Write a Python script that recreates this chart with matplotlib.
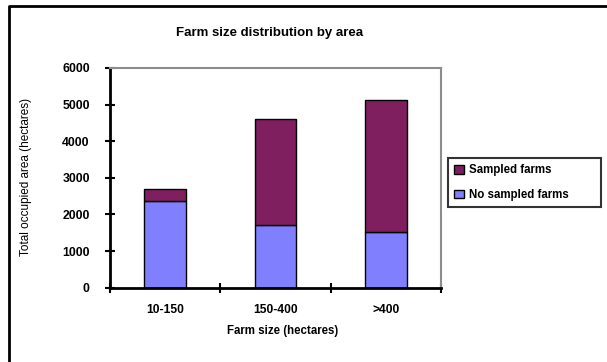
import matplotlib.pyplot as plt
from matplotlib.lines import Line2D

plt.rcParams['font.family'] = ['Liberation Sans', 'DejaVu Sans']

# Farm size classes and occupied area (hectares)
categories = ['10-150', '150-400', '>400']
no_sampled = [2380, 1700, 1530]
sampled = [310, 2900, 3600]
y_ticks = [0, 1000, 2000, 3000, 4000, 5000, 6000]

purple = '#7F1F5F'
blue = '#8080FF'

W, H = 607, 362
fig = plt.figure(figsize=(W / 100, H / 100), dpi=100)

# outer chart frame (only left and top edges show)
fx, fy = 8.5 / W, 1 - 5.5 / H
fig.add_artist(Line2D([fx, fx, 1.0], [0.0, fy, fy], transform=fig.transFigure,
                      color='black', linewidth=2.0))

ax = fig.add_axes([110 / W, (H - 287.7) / H, 331 / W, 219.7 / H])

x = range(len(categories))
b1 = ax.bar(x, no_sampled, width=0.38, color=blue, edgecolor='black',
            linewidth=1.0, label='No sampled farms')
b2 = ax.bar(x, sampled, width=0.38, bottom=no_sampled, color=purple,
            edgecolor='black', linewidth=1.0, label='Sampled farms')

ax.set_xlim(-0.5, 2.5)
ax.set_ylim(0, 6000)
ax.set_yticks(y_ticks)
ax.set_yticklabels([str(v) for v in y_ticks], fontweight='bold', fontsize=8.8)

# ticks at class boundaries, labels centred under bars
ax.set_xticks([-0.5, 0.5, 1.5, 2.5])
ax.set_xticklabels([])
ax.set_xticks(list(x), minor=True)
ax.set_xticklabels(categories, minor=True, fontweight='bold', fontsize=8.7)
ax.tick_params(axis='x', which='minor', length=0, pad=12)
ax.tick_params(axis='x', which='major', direction='inout', length=7,
               width=1.5)
ax.tick_params(axis='y', direction='inout', length=7, width=1.5, pad=11)

for side in ['left', 'bottom']:
    ax.spines[side].set_linewidth(2.0)
    ax.spines[side].set_color('black')
for side in ['top', 'right']:
    ax.spines[side].set_linewidth(1.5)
    ax.spines[side].set_color('#8c8c8c')

fig.text(283 / W, 1 - 331 / H, 'Farm size (hectares)', ha='center',
         va='center', fontweight='bold', fontsize=8.3)
fig.text(26 / W, 1 - 177 / H, 'Total occupied area (hectares)',
         rotation=90, ha='center', va='center', fontsize=8.5)
fig.text(270 / W, 1 - 33 / H, 'Farm size distribution by area',
         ha='center', va='center', fontweight='bold', fontsize=9.5)

leg = fig.legend([b2, b1], ['Sampled farms', 'No sampled farms'],
                 loc='upper left',
                 bbox_to_anchor=(448 / W, 1 - 203 / H, 153 / W, 45 / H),
                 mode='expand', frameon=True, fancybox=False,
                 edgecolor='black', prop={'weight': 'bold', 'size': 8.3},
                 handlelength=0.8, handleheight=0.8, borderpad=0.55,
                 labelspacing=1.1, handletextpad=0.5, borderaxespad=0)
leg.get_frame().set_linewidth(1.5)

fig.savefig('out.png', dpi=100)
